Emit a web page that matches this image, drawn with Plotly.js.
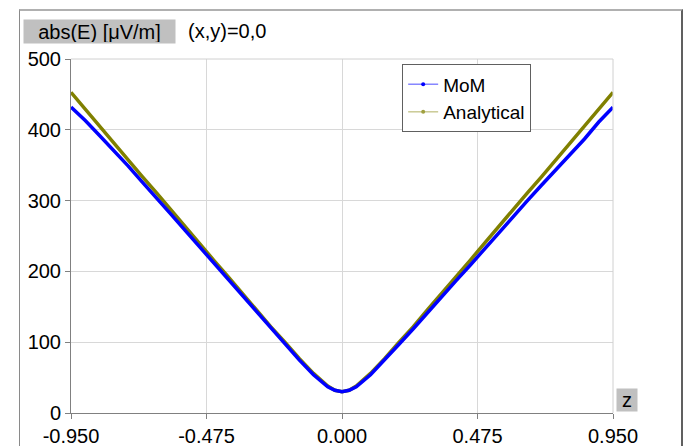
<!DOCTYPE html>
<html>
<head>
<meta charset="utf-8">
<script src="https://cdn.plot.ly/plotly-3.0.1.min.js"></script>
<style>
  html, body { margin: 0; padding: 0; background: #ffffff; }
  #wrap { position: relative; width: 692px; height: 446px; overflow: hidden; }
  #chart { position: absolute; left: 0; top: 0; width: 692px; height: 446px; }
  #frame { position: absolute; left: 19px; top: 9px; width: 664px; height: 460px;
           border-left: 1px solid #8a8a8a; border-top: 2px solid #b0b0b0; border-right: 2px solid #606060;
           pointer-events: none; box-sizing: border-box; }
</style>
</head>
<body>
<div id="wrap">
  <div id="chart"></div>
  <div id="frame"></div>
</div>
<script>
const z = [-0.95,-0.9,-0.85,-0.8,-0.75,-0.7,-0.65,-0.6,-0.55,-0.5,-0.45,-0.4,-0.35,-0.3,-0.25,-0.2,-0.15,-0.1,-0.05,-0.025,0,
           0.025,0.05,0.1,0.15,0.2,0.25,0.3,0.35,0.4,0.45,0.5,0.55,0.6,0.65,0.7,0.75,0.8,0.85,0.9,0.95];
const analytical = [453,429,405,382,358,334,311,287,264,240,216,193,169,146,122,100,77,56,38,32,30,
                    32,38,56,77,100,122,146,169,193,216,240,264,287,311,334,358,382,405,429,453];
const mom = [432,413,392,371,349,326,304,281,258,235,212,189,166,143,120,97,75,54,37,32,30,
             32,37,54,75,97,119,142,164,187,209,232,255,277,300,322,344,366,387,411,432];
const xTickVals = [-0.95,-0.475,0,0.475,0.95];
const xTickText = ["-0.950","-0.475","0.000","0.475","0.950"];
const yTickVals = [0,100,200,300,400,500];

const blue = "#0000ff";
const olive = "#808000";
const font = "Liberation Sans, Arial, sans-serif";

const traces = [
  {x: z, y: analytical, type: "scatter", mode: "lines", line: {color: olive, width: 3.5}, showlegend: false, hoverinfo: "skip"},
  {x: z, y: mom, type: "scatter", mode: "lines", line: {color: blue, width: 3.5}, showlegend: false, hoverinfo: "skip"},
  {x: [null], y: [null], type: "scatter", mode: "lines+markers", name: "MoM",
   line: {color: "#4a4aff", width: 1}, marker: {color: blue, size: 4}},
  {x: [null], y: [null], type: "scatter", mode: "lines+markers", name: "Analytical",
   line: {color: "#b0b060", width: 1}, marker: {color: "#a0a040", size: 4}}
];

const layout = {
  width: 692, height: 446,
  margin: {l: 71, r: 79, t: 59, b: 33, pad: 0},
  paper_bgcolor: "rgba(0,0,0,0)",
  plot_bgcolor: "#ffffff",
  font: {family: font, size: 20, color: "#000000"},
  showlegend: true,
  legend: {x: 0.611, y: 0.985, xanchor: "left", yanchor: "top",
           bgcolor: "#ffffff", bordercolor: "#606060", borderwidth: 1,
           font: {family: font, size: 19, color: "#000000"}, tracegroupgap: 0},
  xaxis: {range: [-0.95, 0.95], tickvals: xTickVals, ticktext: xTickText,
          showgrid: true, gridcolor: "#d8d8d8", gridwidth: 1, zeroline: false,
          showline: true, linecolor: "#808080", linewidth: 1,
          ticks: "outside", ticklen: 5, tickcolor: "#808080",
          tickfont: {family: font, size: 20}, fixedrange: true},
  yaxis: {range: [0, 500], tickvals: yTickVals,
          showgrid: true, gridcolor: "#d8d8d8", gridwidth: 1, zeroline: false,
          showline: true, linecolor: "#808080", linewidth: 1,
          ticks: "outside", ticklen: 5, tickcolor: "#808080",
          tickfont: {family: font, size: 20}, fixedrange: true},
  shapes: [
    {type: "line", xref: "paper", yref: "paper", x0: 0, x1: 1, y0: 1, y1: 1, line: {color: "#d0d0d0", width: 1}},
    {type: "line", xref: "paper", yref: "paper", x0: 1, x1: 1, y0: 0, y1: 1, line: {color: "#d0d0d0", width: 1}}
  ],
  annotations: [
    {text: "abs(E) [μV/m]", xref: "paper", yref: "paper", x: (23 - 71) / 542, y: 1 + (59 - 31) / 354,
     xanchor: "left", yanchor: "middle", showarrow: false, bgcolor: "#c0c0c0", borderpad: 1,
     font: {family: font, size: 20, color: "#000000"}, width: 149, height: 21, align: "center"},
    {text: "(x,y)=0,0", xref: "paper", yref: "paper", x: (186 - 71) / 542, y: 1 + (59 - 31) / 354,
     xanchor: "left", yanchor: "middle", showarrow: false,
     font: {family: font, size: 20, color: "#000000"}},
    {text: "z", xref: "paper", yref: "paper", x: (627 - 71) / 542, y: (413 - 400) / 354,
     xanchor: "center", yanchor: "middle", showarrow: false, bgcolor: "#c0c0c0", borderpad: 1,
     font: {family: font, size: 20, color: "#000000"}, width: 18, height: 20}
  ]
};

Plotly.newPlot("chart", traces, layout, {staticPlot: true, displayModeBar: false});
</script>
</body>
</html>
